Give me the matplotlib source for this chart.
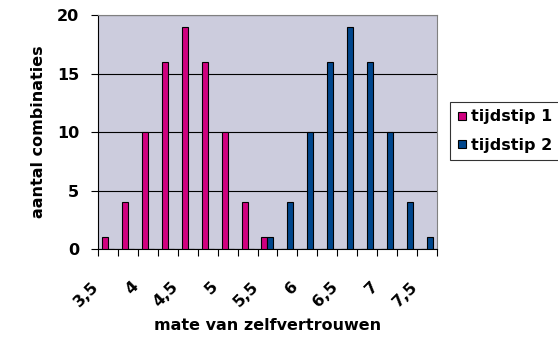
import numpy as np
import matplotlib.pyplot as plt
from matplotlib.lines import Line2D
from matplotlib.transforms import ScaledTranslation

# categories 3,5 .. 7,5 in steps of 0,25
categories = ["3,5", "3,75", "4", "4,25", "4,5", "4,75", "5", "5,25", "5,5",
              "5,75", "6", "6,25", "6,5", "6,75", "7", "7,25", "7,5"]
tijdstip1 = [1, 4, 10, 16, 19, 16, 10, 4, 1, 0, 0, 0, 0, 0, 0, 0, 0]
tijdstip2 = [0, 0, 0, 0, 0, 0, 0, 0, 1, 4, 10, 16, 19, 16, 10, 4, 1]
tick_labels = ["3,5", "4", "4,5", "5", "5,5", "6", "6,5", "7", "7,5"]

plt.rcParams['font.family'] = ['DejaVu Sans']
fs = 11.5
pink = '#D0007F'
blue = '#00468C'

fig = plt.figure(figsize=(5.58, 3.37), dpi=100)
ax = fig.add_axes([0.1756, 0.261, 0.6075, 0.694])
ax.set_facecolor('#CCCCDD')

x = np.arange(len(categories))
w = 0.3
ax.bar(x - w / 2, tijdstip1, w, color=pink, edgecolor='black', linewidth=0.8, zorder=3)
ax.bar(x + w / 2, tijdstip2, w, color=blue, edgecolor='black', linewidth=0.8, zorder=3)

ax.set_xlim(-0.5, len(categories) - 0.5)
ax.set_ylim(0, 20)
ax.set_yticks([0, 5, 10, 15, 20])
ax.yaxis.grid(True, color='black', linewidth=0.8, zorder=1)

# labels on every second category, tick marks on the category borders
ax.set_xticks(x[::2])
ax.set_xticklabels(tick_labels, rotation=45, ha='right', va='top',
                   rotation_mode='anchor', fontweight='bold', fontsize=fs)
ax.tick_params(axis='x', length=0, pad=9)
shift = ScaledTranslation(-17 / 100, -17 / 100, fig.dpi_scale_trans)
for lab in ax.get_xticklabels():
    lab.set_transform(lab.get_transform() + shift)
ax.set_xticks(np.arange(-0.5, len(categories)), minor=True)
ax.tick_params(axis='x', which='minor', length=5, direction='out', width=0.8)
ax.tick_params(axis='y', length=5, width=0.8, labelsize=fs, pad=8.5)
for lab in ax.get_yticklabels():
    lab.set_fontweight('bold')

ax.spines['top'].set_color('#808080')
ax.spines['right'].set_color('#808080')
ax.spines['left'].set_linewidth(0.8)
ax.spines['bottom'].set_linewidth(0.8)

ax.set_xlabel('mate van zelfvertrouwen', fontsize=fs, fontweight='bold', labelpad=6)
ax.set_ylabel('aantal combinaties', fontsize=fs, fontweight='bold', labelpad=8)

handles = [Line2D([], [], marker='s', linestyle='none', markersize=6,
                  markerfacecolor=c, markeredgecolor='black', markeredgewidth=0.8)
           for c in (pink, blue)]
leg = fig.legend(handles, ['tijdstip 1', 'tijdstip 2'], loc='upper left',
                 bbox_to_anchor=(450 / 558, 1 - 102 / 337),
                 frameon=True, fancybox=False, edgecolor='black',
                 prop={'weight': 'bold', 'size': fs}, handlelength=0.55,
                 handletextpad=0.3, borderpad=0.45, labelspacing=0.85,
                 borderaxespad=0)
leg.get_frame().set_linewidth(0.8)

plt.savefig('out.png', dpi=100)
plt.close()
